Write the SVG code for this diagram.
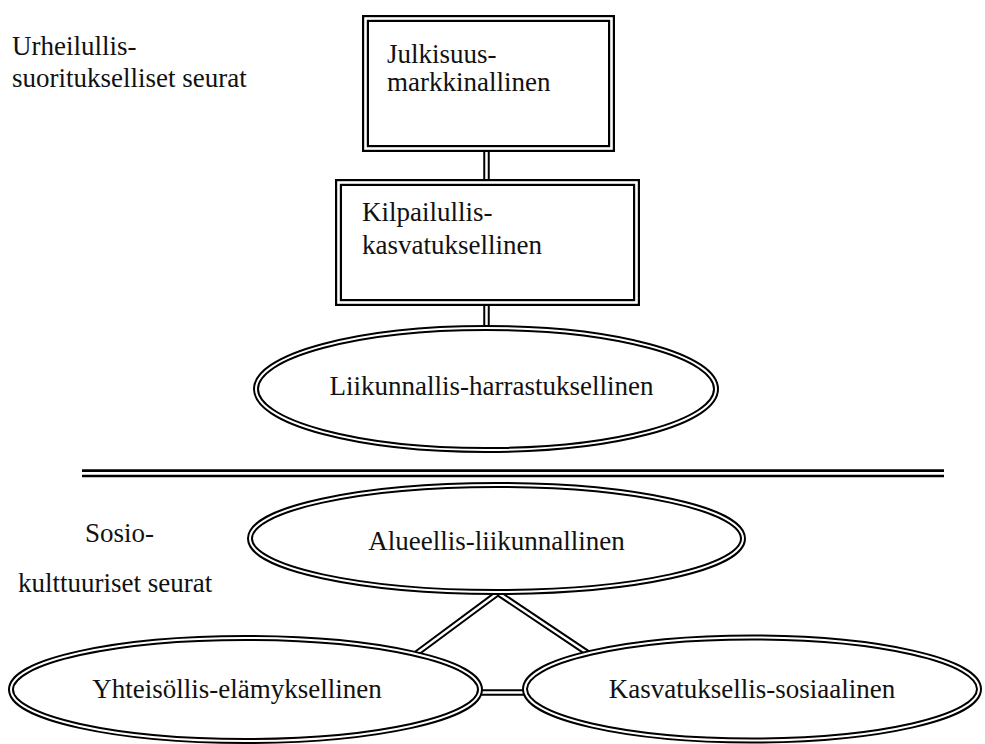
<svg xmlns="http://www.w3.org/2000/svg" width="985" height="744" viewBox="0 0 985 744">
<style>
  text { font-family: "Liberation Serif", "Times New Roman", serif; font-size: 27px; fill: #111; }
  .mid { text-anchor: middle; }
  .bo { fill: #fff; stroke: #000; stroke-width: 7; }
  .bi { fill: none; stroke: #fff; stroke-width: 2.6; }
  .eo { fill: #fff; stroke: #000; stroke-width: 6; }
  .ei { fill: none; stroke: #fff; stroke-width: 2; }
  .co { fill: none; stroke: #000; stroke-width: 6.5; stroke-linejoin: miter; }
  .ci { fill: none; stroke: #fff; stroke-width: 2.5; stroke-linejoin: miter; }
</style>
<rect width="985" height="744" fill="#fff"/>

<g id="labels">
  <text x="12" y="55">Urheilullis-</text>
  <text x="12" y="87">suoritukselliset seurat</text>
  <text x="85" y="542">Sosio-</text>
  <text x="18" y="592">kulttuuriset seurat</text>
</g>

<g id="separator">
  <line x1="82" y1="473.3" x2="944" y2="473.3" stroke="#000" stroke-width="8"/>
  <line x1="82" y1="473.3" x2="944" y2="473.3" stroke="#fff" stroke-width="2.7"/>
</g>

<g id="connectors">
  <line class="co" x1="486.5" y1="150" x2="486.5" y2="182"/>
  <line class="ci" x1="486.5" y1="150" x2="486.5" y2="182"/>
  <line class="co" x1="486.5" y1="304" x2="486.5" y2="330"/>
  <line class="ci" x1="486.5" y1="304" x2="486.5" y2="330"/>
  <polyline class="co" points="413,656 498,593 592,656"/>
  <polyline class="ci" points="413,656 498,593 592,656"/>
  <line class="co" x1="478" y1="692.5" x2="528" y2="692.5"/>
  <line class="ci" x1="478" y1="692.5" x2="528" y2="692.5"/>
</g>

<g id="node-julkisuus">
  <rect class="bo" x="365.5" y="18.5" width="246" height="130"/>
  <rect class="bi" x="365.5" y="18.5" width="246" height="130"/>
  <text x="387" y="63">Julkisuus-</text>
  <text x="387" y="91">markkinallinen</text>
</g>

<g id="node-kilpailullis">
  <rect class="bo" x="338.5" y="182.5" width="298" height="120"/>
  <rect class="bi" x="338.5" y="182.5" width="298" height="120"/>
  <text x="362" y="221">Kilpailullis-</text>
  <text x="362" y="254">kasvatuksellinen</text>
</g>

<g id="node-liikunnallis">
  <ellipse class="eo" cx="486" cy="389" rx="230" ry="61"/>
  <ellipse class="ei" cx="486" cy="389" rx="230" ry="61"/>
  <text class="mid" x="491.5" y="395">Liikunnallis-harrastuksellinen</text>
</g>

<g id="node-alueellis">
  <ellipse class="eo" cx="496.5" cy="538.5" rx="246.5" ry="53.5"/>
  <ellipse class="ei" cx="496.5" cy="538.5" rx="246.5" ry="53.5"/>
  <text class="mid" x="496.5" y="550">Alueellis-liikunnallinen</text>
</g>

<g id="node-yhteisollis">
  <ellipse class="eo" cx="245.5" cy="689.5" rx="234.5" ry="51.5"/>
  <ellipse class="ei" cx="245.5" cy="689.5" rx="234.5" ry="51.5"/>
  <text class="mid" x="237" y="698">Yhteisöllis-elämyksellinen</text>
</g>

<g id="node-kasvatuksellis">
  <ellipse class="eo" cx="752" cy="689" rx="227" ry="51.5"/>
  <ellipse class="ei" cx="752" cy="689" rx="227" ry="51.5"/>
  <text class="mid" x="752" y="698">Kasvatuksellis-sosiaalinen</text>
</g>
</svg>
